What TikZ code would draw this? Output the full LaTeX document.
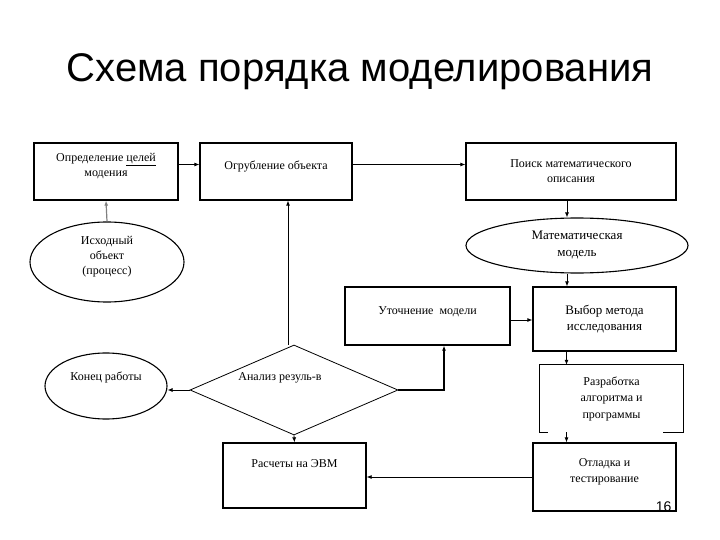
\documentclass[tikz,border=0pt]{standalone}
\usepackage{fontspec}
\setmainfont{Liberation Serif}
\newfontfamily\titlefont{Liberation Sans}
\usetikzlibrary{shapes.geometric,arrows.meta}
\tikzset{
  blok/.style={draw, line width=1.3pt, align=center, inner sep=2pt,
    font=\fontsize{12}{15}\selectfont},
  oval/.style={draw, ellipse, line width=1.1pt, align=center, inner sep=0pt,
    font=\fontsize{12}{15}\selectfont},
  romb/.style={draw, diamond, line width=0.8pt, inner sep=0pt},
  arr/.style={-{Latex[length=5pt,width=4pt]}, line width=0.8pt},
  up/.style={text depth=#1},
}
\begin{document}
\begin{tikzpicture}[x=1pt,y=-1pt]
\useasboundingbox (0,0) rectangle (720,540);

% title
\node (title) at (360,72) {\titlefont\fontsize{40}{44}\selectfont Схема порядка моделирования};

% top row
\node[blok, up=13pt, minimum width=144pt, minimum height=57pt] (celi) at (106,171.5) {Определение \underline{целей}\\модения};
\node[blok, up=12pt, minimum width=152pt, minimum height=57pt] (ogrub) at (276,171.5) {Огрубление объекта};
\node[blok, minimum width=210pt, minimum height=57pt] (poisk) at (571,171.5) {Поиск математического\\описания};

% ovals
\node[oval, up=13pt, minimum width=154pt, minimum height=80pt] (ishod) at (107,262) {Исходный\\объект\\(процесс)};
\node[oval, minimum width=222pt, minimum height=55pt, font=\fontsize{13}{17}\selectfont] (matmod) at (577,245.5) {Математическая\\модель};

% middle
\node[blok, up=11pt, minimum width=165pt, minimum height=58pt] (utoch) at (427.5,316) {Уточнение\ \ модели};
\node[blok, minimum width=143pt, minimum height=64pt, font=\fontsize{13}{16}\selectfont] (vybor) at (604.5,319) {Выбор метода\\исследования};
\node[oval, up=19pt, minimum width=122pt, minimum height=66pt] (konec) at (106,386) {Конец работы};
\node[romb, minimum width=208pt, minimum height=90pt,
  label={[xshift=-14pt,yshift=12pt,font=\fontsize{12}{15}\selectfont]center:Анализ резуль-в}] (analiz) at (294,390) {};
\node[align=center, minimum width=143pt, minimum height=67pt,
  font=\fontsize{12}{16.5}\selectfont] (razrab) at (611.5,398.5) {Разработка\\алгоритма и\\программы};
\draw[line width=1.3pt] ([xshift=8pt]razrab.south west) -- (razrab.south west) -- (razrab.north west)
  -- (razrab.north east) -- (razrab.south east) -- ([xshift=-20pt]razrab.south east);

% bottom row
\node[blok, up=23pt, minimum width=143pt, minimum height=65pt] (raschet) at (294.5,475.5) {Расчеты на ЭВМ};
\node[blok, up=13pt, minimum width=143pt, minimum height=68pt, font=\fontsize{12}{16}\selectfont] (otlad) at (604.5,477) {Отладка и\\тестирование};
\node[anchor=base east, font=\titlefont\fontsize{14}{16}\selectfont] (num) at (675,511) {16};

% connectors
\draw[arr] ([yshift=7pt]celi.east) -- ([yshift=7pt]ogrub.west);
\draw[arr] ([yshift=7pt]ogrub.east) -- ([yshift=7pt]poisk.west);
\draw[arr] ([xshift=-4pt]poisk.south) -- ([xshift=-4pt]poisk.south |- matmod.north);
\draw[arr] ([xshift=-10pt]matmod.south) -- ([xshift=-10pt]matmod.south |- vybor.north);
\draw[arr, gray, line width=1.2pt] (ishod.north) -- (celi.south);
\draw[arr] ([xshift=-6pt]analiz.north) -- ([xshift=-6pt]analiz.north |- ogrub.south);
\draw[arr, line width=1.6pt] (analiz.east) -| ([xshift=16.5pt]utoch.south);
\draw[arr] ([yshift=-4pt]utoch.east) -- ([yshift=-4pt]utoch.east -| vybor.west);
\draw[arr] ([xshift=-38pt]vybor.south) -- ([xshift=-38pt]vybor.south |- razrab.north);
\draw[arr] ([xshift=-45pt]razrab.south) -- ([xshift=-45pt]razrab.south |- otlad.north);
\draw[arr] (otlad.west) -- (otlad.west -| raschet.east);
\draw[arr] (analiz.south) -- (raschet.north);
\draw[arr] (analiz.west) -- (analiz.west -| konec.east);
\end{tikzpicture}
\end{document}
